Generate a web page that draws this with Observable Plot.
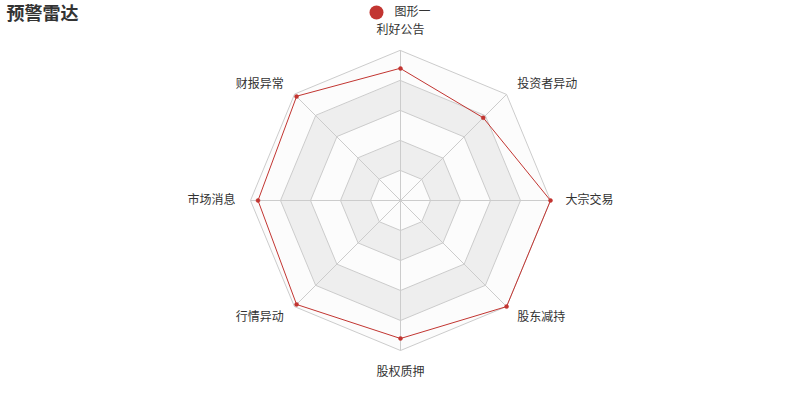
<!DOCTYPE html>
<html><head><meta charset="utf-8">
<script src="https://cdn.jsdelivr.net/npm/d3@7"></script>
<script src="https://cdn.jsdelivr.net/npm/@observablehq/plot@0.6"></script>
<style>
body{margin:0;background:#fff;font-family:"Noto Sans CJK SC","Noto Sans",sans-serif}
#chart svg{display:block}
</style>
</head><body><div id="chart"></div>
<script>
// ---- data ----
const chartTitle = "预警雷达";
const seriesName = "图形一";
const indicators = ["利好公告","投资者异动","大宗交易","股东减持","股权质押","行情异动","市场消息","财报异常"];
const indicatorMax = [100, 100, 100, 100, 100, 100, 100, 100];
const values = [88, 78, 100, 100, 92, 98, 95, 98];
const splitLevels = [0.2, 0.4, 0.6, 0.8, 1.0];

// ---- layout ----
const W = 800, H = 400, R = 150, nameGap = 15;
const n = indicators.length;
const ang = i => i * 2 * Math.PI / n;
const px = (i, r) => Math.sin(ang(i)) * r;
const py = (i, r) => Math.cos(ang(i)) * r;

const rings = splitLevels.map((lv, k) => ({k, pts: indicators.map((_, i) => ({x: px(i, lv * R), y: py(i, lv * R)}))}));
const spokes = indicators.map((name, i) => ({x1: 0, y1: 0, x2: px(i, R), y2: py(i, R)}));
const series = values.map((v, i) => ({name: indicators[i], x: px(i, v / indicatorMax[i] * R), y: py(i, v / indicatorMax[i] * R)}));
const labels = indicators.map((name, i) => {
  const s = Math.sin(ang(i)), c = Math.cos(ang(i));
  return {name, x: px(i, R + nameGap), y: py(i, R + nameGap),
    anchor: s > 0.01 ? "start" : s < -0.01 ? "end" : "middle",
    line: Math.abs(s) < 0.01 ? (c > 0 ? "bottom" : "top") : "middle"};
});

const RED = "#c23531";
const marks = [];
// split areas (outer first)
[...rings].reverse().forEach(r => {
  marks.push(Plot.line(r.pts, {x: "x", y: "y", curve: "linear-closed",
    fill: r.k % 2 === 1 ? "#eeeeee" : "#fcfcfc", stroke: "#cccccc", strokeWidth: 1}));
});
marks.push(Plot.link(spokes, {x1: "x1", y1: "y1", x2: "x2", y2: "y2", stroke: "#cccccc", strokeWidth: 1}));
marks.push(Plot.line(series, {x: "x", y: "y", curve: "linear-closed", stroke: RED, strokeWidth: 1, fill: "none"}));
marks.push(Plot.dot(series, {x: "x", y: "y", r: 2, fill: RED, stroke: RED, strokeWidth: 0.5}));
for (const a of ["start", "middle", "end"]) for (const l of ["top", "middle", "bottom"]) {
  const sub = labels.filter(d => d.anchor === a && d.line === l);
  if (sub.length) marks.push(Plot.text(sub, {x: "x", y: "y", text: "name", textAnchor: a, lineAnchor: l,
    dy: l === "bottom" ? -2 : l === "top" ? 2 : 0, fontSize: 12, fill: "#333"}));
}
// title & legend
marks.push(Plot.text([chartTitle], {frameAnchor: "top-left", dx: 6, dy: 14, text: d => d, textAnchor: "start", lineAnchor: "middle", fontSize: 18, fontWeight: "bold", fill: "#333"}));
marks.push(Plot.dot([seriesName], {frameAnchor: "top-left", dx: 376, dy: 12, r: 7, fill: RED}));
marks.push(Plot.text([seriesName], {frameAnchor: "top-left", dx: 394, dy: 12, text: d => d, textAnchor: "start", lineAnchor: "middle", fontSize: 12, fill: "#333"}));

const chart = Plot.plot({
  width: W, height: H,
  margin: 0,
  x: {domain: [-W / 2, W / 2], range: [0, W], axis: null},
  y: {domain: [-H / 2, H / 2], range: [H, 0], axis: null},
  style: {background: "#fff", fontFamily: '"Noto Sans CJK SC","Noto Sans",sans-serif', overflow: "visible"},
  marks
});
document.getElementById("chart").append(chart);
</script>
</body></html>
